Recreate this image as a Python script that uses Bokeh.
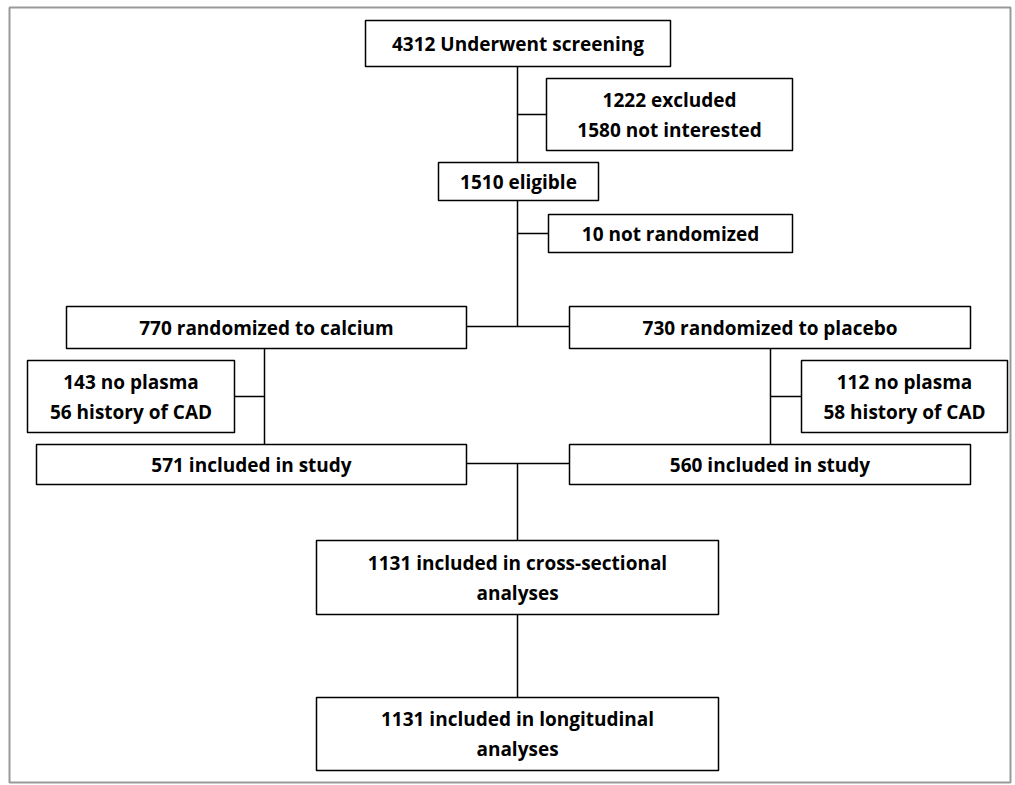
from bokeh.plotting import figure
from bokeh.models import Range1d
from bokeh.core.properties import value
from bokeh.embed import file_html
from bokeh.resources import INLINE

# box labels (one string per line)
labels = [
    ["4312 Underwent screening"],
    ["1222 excluded", "1580 not interested"],
    ["1510 eligible"],
    ["10 not randomized"],
    ["770 randomized to calcium"],
    ["730 randomized to placebo"],
    ["143 no plasma", "56 history of CAD"],
    ["112 no plasma", "58 history of CAD"],
    ["571 included in study"],
    ["560 included in study"],
    ["1131 included in cross-sectional", "analyses"],
    ["1131 included in longitudinal", "analyses"],
]

# box geometry: left, right, top, bottom (pixels)
boxes = [
    (365, 670, 20, 66),
    (546, 792, 78, 150),
    (438, 598, 162, 200),
    (548, 792, 214, 252),
    (66, 466, 306, 348),
    (569, 970, 306, 348),
    (27, 234, 360, 432),
    (801, 1007, 360, 432),
    (36, 466, 444, 484),
    (569, 970, 444, 484),
    (316, 718, 540, 614),
    (316, 718, 697, 770),
]

# connector segments
seg_x0 = [517, 517, 517, 517, 466, 264, 234, 770, 770, 466, 517, 517]
seg_y0 = [66, 114, 200, 233, 326, 348, 396, 348, 396, 463, 463, 614]
seg_x1 = [517, 546, 517, 548, 569, 264, 264, 770, 801, 569, 517, 517]
seg_y1 = [162, 114, 326, 233, 326, 444, 396, 444, 396, 463, 540, 697]

p = figure(width=1012, height=785, output_backend="svg", toolbar_location=None,
           x_range=Range1d(0, 1012), y_range=Range1d(785, 0), min_border=0)
p.axis.visible = False
p.grid.visible = False
p.outline_line_color = None

p.quad(left=[9], right=[1010], top=[7], bottom=[782], fill_color=None,
       line_color="#999999", line_width=2)

p.segment(seg_x0, seg_y0, seg_x1, seg_y1, line_color="black", line_width=1.5)

p.quad(left=[b[0] for b in boxes], right=[b[1] for b in boxes],
       top=[b[2] for b in boxes], bottom=[b[3] for b in boxes],
       fill_color="white", line_color="black", line_width=1.5)

tx, ty, tt = [], [], []
for lab, b in zip(labels, boxes):
    cx = (b[0] + b[1]) / 2
    cy = (b[2] + b[3]) / 2
    n = len(lab)
    for i, line in enumerate(lab):
        tx.append(cx)
        ty.append(cy + (i - (n - 1) / 2) * 30)
        tt.append(line)

p.text(tx, ty, text=tt, text_align="center", text_baseline="middle",
       text_font=value("Open Sans"), text_font_style="bold",
       text_font_size="19px", text_color="black")

open("out.html", "w").write(file_html(p, INLINE))
